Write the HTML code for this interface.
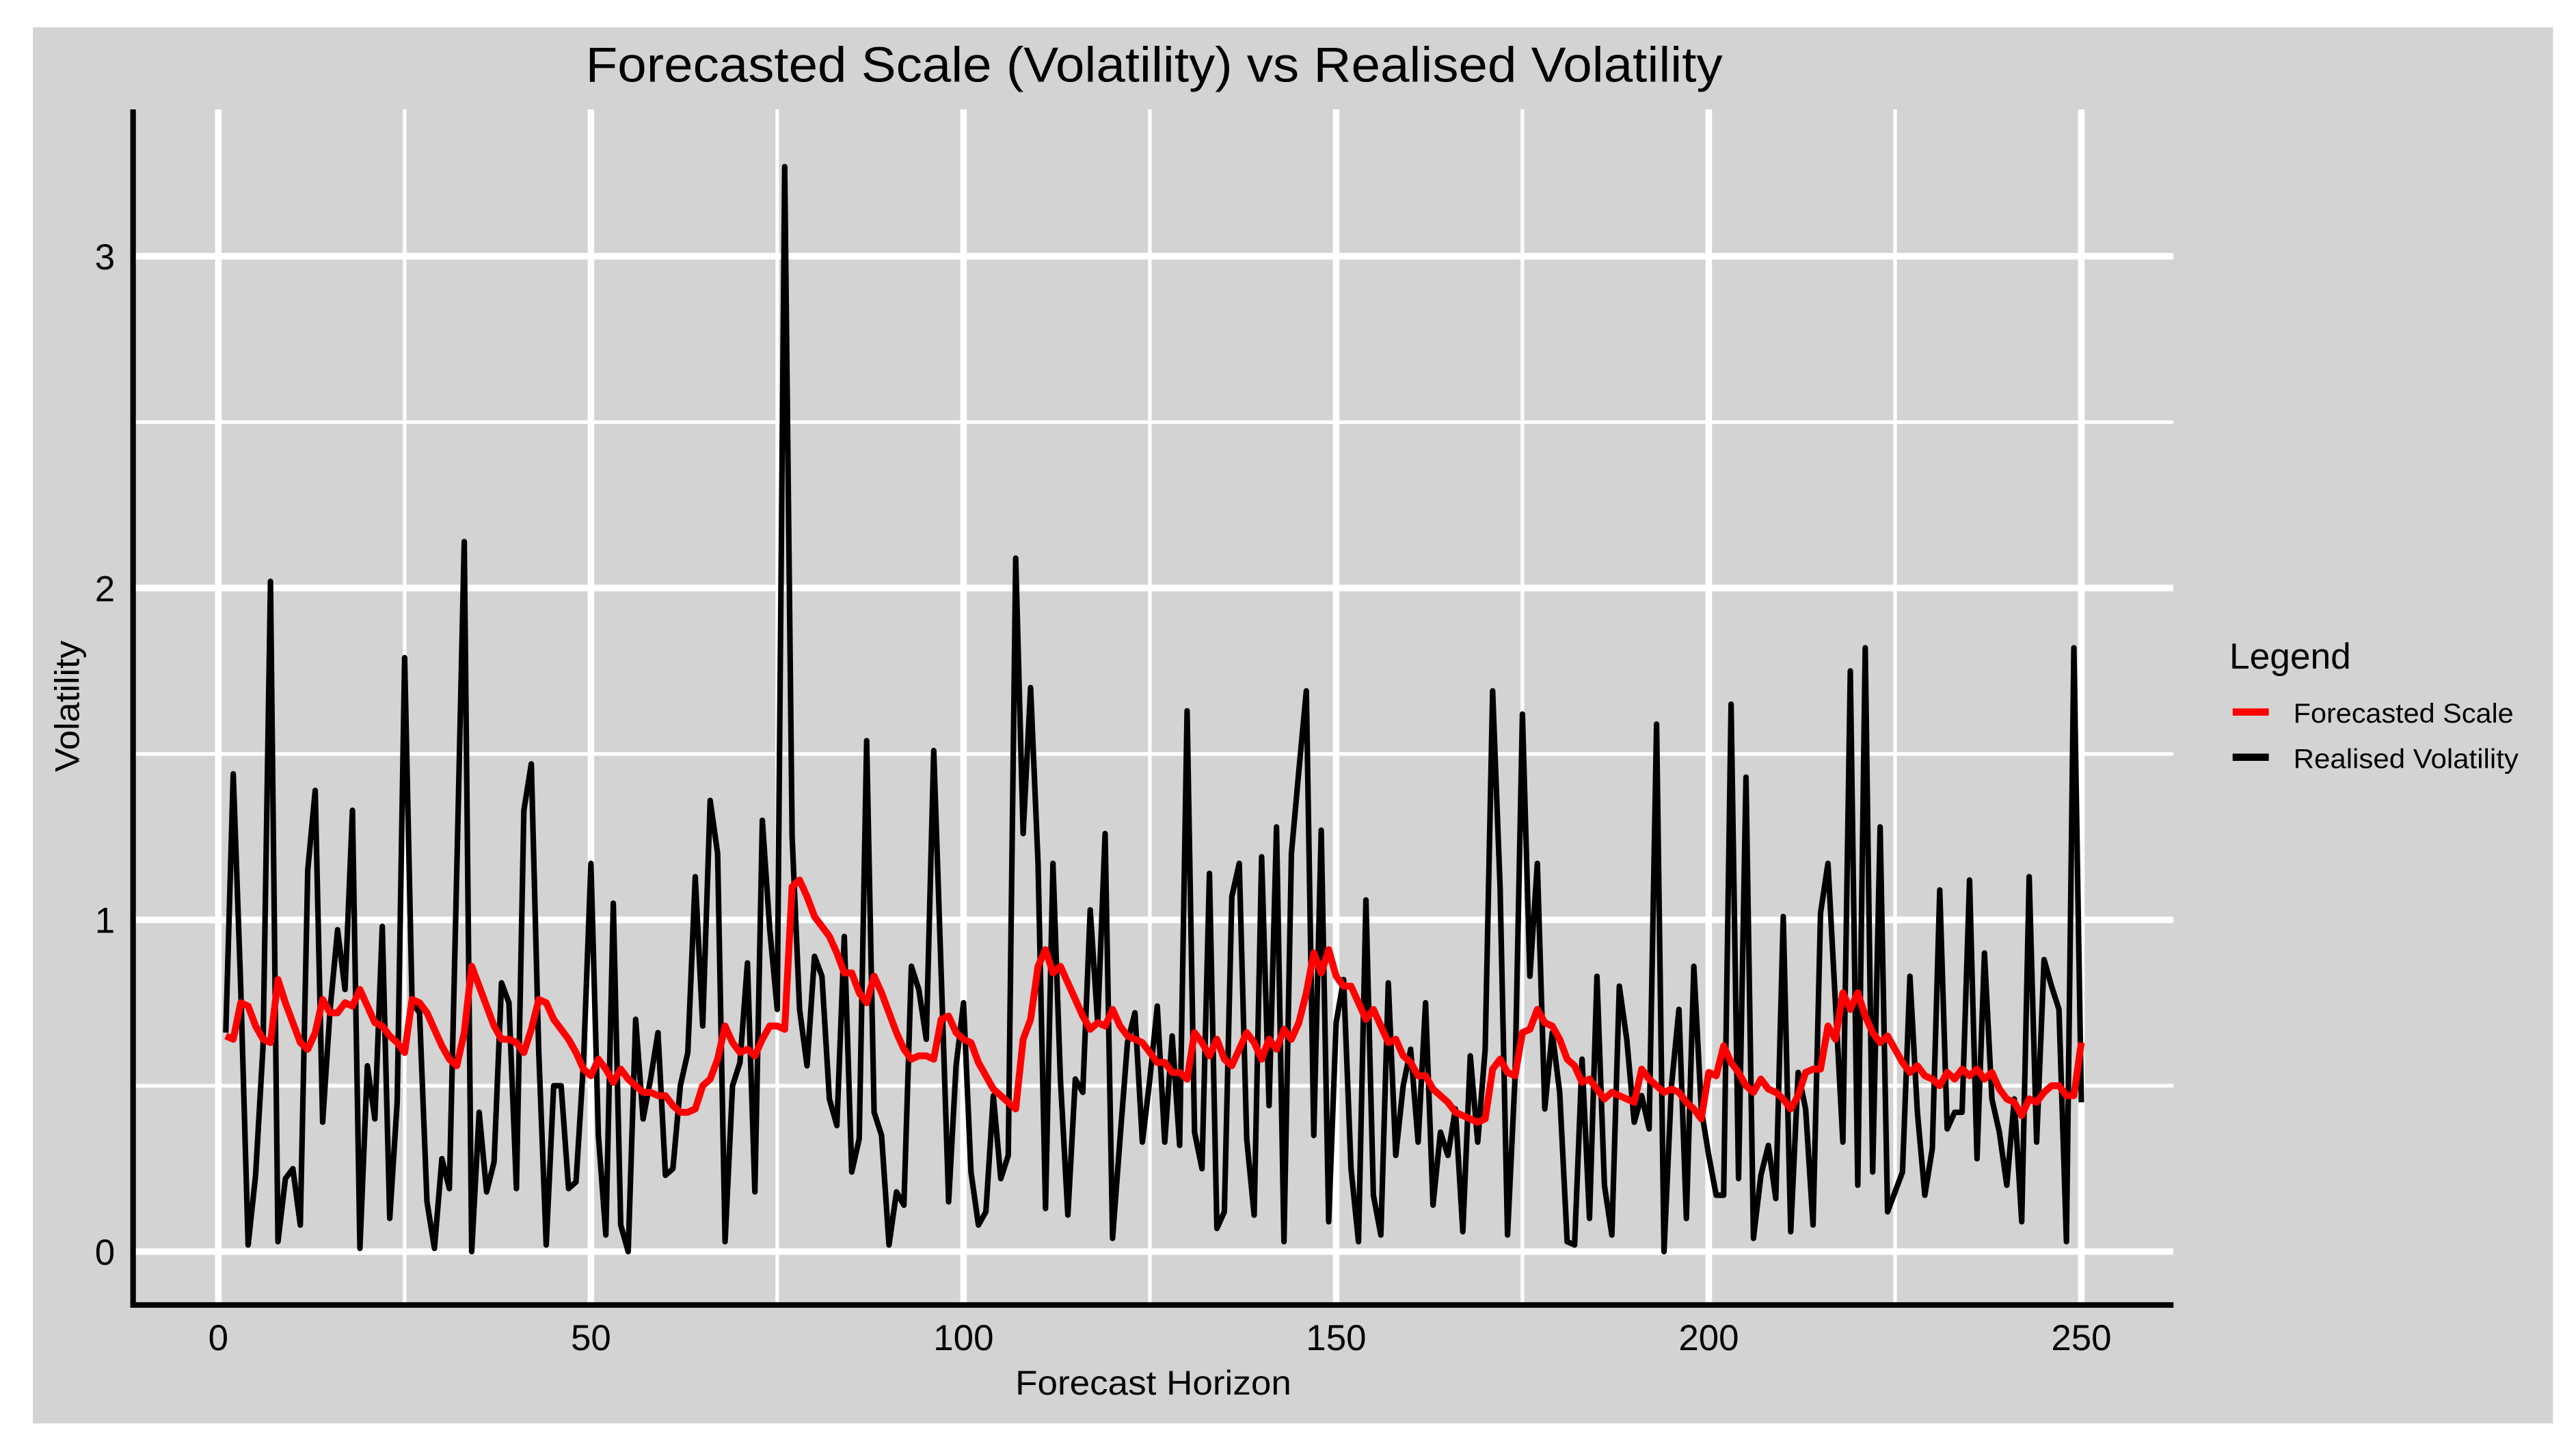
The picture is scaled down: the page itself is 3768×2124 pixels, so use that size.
<!DOCTYPE html>
<html><head><meta charset="utf-8"><style>
html,body{margin:0;padding:0;background:#fff;}
svg{display:block;}
text{font-family:"Liberation Sans",sans-serif;fill:#000;}
</style></head><body>
<svg id="chart" width="3768" height="2124" viewBox="0 0 1568 884" preserveAspectRatio="none" xmlns="http://www.w3.org/2000/svg">
<rect x="20" y="16.6" width="1534" height="850" fill="#d3d3d3"/>
<g id="grid"></g>
<g id="series"></g>
<line x1="81" y1="66.6" x2="81" y2="796" stroke="#000" stroke-width="3.4"/>
<line x1="79.5" y1="794.5" x2="1323" y2="794.5" stroke="#000" stroke-width="3.4"/>
<g id="ticks"></g>
<text x="356.5" y="49.7" font-size="30" textLength="692" lengthAdjust="spacingAndGlyphs">Forecasted Scale (Volatility) vs Realised Volatility</text>
<text x="618" y="849" font-size="21" textLength="168" lengthAdjust="spacingAndGlyphs">Forecast Horizon</text>
<text transform="translate(48,470) rotate(-90)" font-size="21" textLength="80" lengthAdjust="spacingAndGlyphs">Volatility</text>
<g>
<text x="1357" y="407" font-size="22" textLength="74" lengthAdjust="spacingAndGlyphs">Legend</text>
<line x1="1359" y1="433.5" x2="1381" y2="433.5" stroke="#ff0000" stroke-width="4.4"/>
<text x="1396" y="440" font-size="16.5" textLength="134" lengthAdjust="spacingAndGlyphs">Forecasted Scale</text>
<line x1="1359" y1="461" x2="1381" y2="461" stroke="#000" stroke-width="4.4"/>
<text x="1396" y="467.5" font-size="16.5" textLength="137" lengthAdjust="spacingAndGlyphs">Realised Volatility</text>
</g>
</svg>
<script>
const xTicks = [0, 50, 100, 150, 200, 250];
const xMinor = [25, 75, 125, 175, 225];
const yTicks = [0, 1, 2, 3];
const yMinor = [0.5, 1.5, 2.5];
const realised = [
0.66,1.44,0.8,0.02,0.23,0.62,2.02,0.03,0.22,0.25,
0.08,1.15,1.39,0.39,0.73,0.97,0.79,1.33,0.01,0.56,
0.4,0.98,0.1,0.45,1.79,0.75,0.72,0.15,0.01,0.28,
0.19,1.15,2.14,0.0,0.42,0.18,0.27,0.81,0.75,0.19,
1.33,1.47,0.6,0.02,0.5,0.5,0.19,0.21,0.57,1.17,
0.35,0.05,1.05,0.08,0.0,0.7,0.4,0.52,0.66,0.23,
0.25,0.5,0.6,1.13,0.68,1.36,1.2,0.03,0.5,0.57,
0.87,0.18,1.3,0.97,0.73,3.27,1.25,0.73,0.56,0.89,
0.83,0.46,0.38,0.95,0.24,0.34,1.54,0.42,0.35,0.02,
0.18,0.14,0.86,0.79,0.64,1.51,0.84,0.15,0.56,0.75,
0.24,0.08,0.12,0.47,0.22,0.29,2.09,1.26,1.7,1.17,
0.13,1.17,0.52,0.11,0.52,0.48,1.03,0.69,1.26,0.04,
0.34,0.63,0.72,0.33,0.52,0.74,0.33,0.65,0.32,1.63,
0.36,0.25,1.14,0.07,0.12,1.07,1.17,0.34,0.11,1.19,
0.44,1.28,0.03,1.2,1.45,1.69,0.35,1.27,0.09,0.69,
0.82,0.25,0.03,1.06,0.17,0.05,0.81,0.29,0.5,0.61,
0.33,0.75,0.14,0.36,0.29,0.43,0.06,0.59,0.33,0.61,
1.69,1.1,0.05,0.52,1.62,0.83,1.17,0.43,0.66,0.48,
0.03,0.02,0.58,0.1,0.83,0.2,0.05,0.8,0.64,0.39,
0.47,0.37,1.59,0.0,0.5,0.73,0.1,0.86,0.43,0.29,
0.17,0.17,1.65,0.22,1.43,0.04,0.23,0.32,0.16,1.01,
0.06,0.54,0.43,0.08,1.02,1.17,0.75,0.33,1.75,0.2,
1.82,0.24,1.28,0.12,0.18,0.24,0.83,0.42,0.17,0.31,
1.09,0.37,0.42,0.42,1.12,0.28,0.9,0.46,0.36,0.2,
0.46,0.09,1.13,0.33,0.88,0.8,0.73,0.03,1.82,0.45];
const forecast = [
0.65,0.64,0.75,0.74,0.68,0.64,0.63,0.82,0.75,0.69,
0.63,0.61,0.66,0.76,0.72,0.72,0.75,0.74,0.79,0.74,
0.69,0.68,0.65,0.63,0.6,0.76,0.75,0.72,0.67,0.62,
0.58,0.56,0.66,0.86,0.8,0.74,0.68,0.64,0.64,0.63,
0.6,0.67,0.76,0.75,0.7,0.67,0.64,0.6,0.55,0.53,
0.58,0.55,0.51,0.55,0.52,0.5,0.48,0.48,0.47,0.47,
0.44,0.42,0.42,0.43,0.5,0.52,0.58,0.68,0.63,0.6,
0.61,0.59,0.64,0.68,0.68,0.67,1.1,1.12,1.07,1.01,
0.98,0.95,0.9,0.84,0.84,0.78,0.75,0.83,0.78,0.72,
0.66,0.61,0.58,0.59,0.59,0.58,0.7,0.71,0.66,0.64,
0.63,0.57,0.53,0.49,0.47,0.45,0.43,0.64,0.7,0.86,
0.91,0.84,0.86,0.81,0.76,0.71,0.67,0.69,0.68,0.73,
0.68,0.65,0.64,0.63,0.6,0.57,0.57,0.54,0.54,0.52,
0.66,0.63,0.59,0.64,0.58,0.56,0.61,0.66,0.63,0.58,
0.64,0.61,0.67,0.64,0.69,0.78,0.9,0.84,0.91,0.83,
0.8,0.8,0.75,0.7,0.73,0.68,0.63,0.64,0.59,0.57,
0.53,0.53,0.49,0.47,0.45,0.42,0.41,0.4,0.39,0.4,
0.55,0.58,0.54,0.53,0.66,0.67,0.73,0.69,0.68,0.64,
0.58,0.56,0.51,0.52,0.49,0.46,0.48,0.47,0.46,0.45,
0.55,0.52,0.5,0.48,0.49,0.48,0.45,0.43,0.4,0.54,
0.53,0.62,0.57,0.54,0.5,0.48,0.52,0.49,0.48,0.46,
0.43,0.47,0.54,0.55,0.55,0.68,0.64,0.78,0.73,0.78,
0.71,0.66,0.63,0.65,0.61,0.57,0.54,0.56,0.53,0.52,
0.5,0.54,0.52,0.55,0.53,0.55,0.52,0.54,0.49,0.46,
0.45,0.41,0.46,0.45,0.48,0.5,0.5,0.47,0.47,0.63];

const NS = "http://www.w3.org/2000/svg";
const X0 = 132.9, XS = 4.536, Y0 = 762, YS = 202;
function sx(v){ return X0 + v*XS; }
function sy(v){ return Y0 - v*YS; }
const PL = 81, PR = 1323, PT = 66.6, PB = 793;

const grid = document.getElementById('grid');
function gline(x1,y1,x2,y2,w,name){
  const l = document.createElementNS(NS,'line');
  l.setAttribute('x1',x1); l.setAttribute('y1',y1); l.setAttribute('x2',x2); l.setAttribute('y2',y2);
  l.setAttribute('stroke','#fff'); l.setAttribute('stroke-width',w);
  
  
  grid.appendChild(l);
}
yMinor.forEach(v => gline(PL, sy(v), PR, sy(v), 2.2, 'y-minor-gridline'));
xMinor.forEach(v => gline(sx(v), PT, sx(v), PB, 2.2, 'x-minor-gridline'));
yTicks.forEach(v => gline(PL, sy(v), PR, sy(v), 4, 'y-major-gridline'));
xTicks.forEach(v => gline(sx(v), PT, sx(v), PB, 4, 'x-major-gridline'));

const ticks = document.getElementById('ticks');
xTicks.forEach(v => {
  const t = document.createElementNS(NS,'text');
  t.setAttribute('x', sx(v)); t.setAttribute('y', 822);
  t.setAttribute('font-size', 22); t.setAttribute('text-anchor','middle');
  
  
  t.textContent = v; ticks.appendChild(t);
});
yTicks.forEach(v => {
  const t = document.createElementNS(NS,'text');
  t.setAttribute('x', 70); t.setAttribute('y', sy(v) + 8);
  t.setAttribute('font-size', 22); t.setAttribute('text-anchor','end');
  
  
  t.textContent = v; ticks.appendChild(t);
});

const series = document.getElementById('series');
function path(arr, color, w, name){
  const d = arr.map((v,i) => (i ? 'L' : 'M') + sx(i+1).toFixed(2) + ',' + sy(v).toFixed(2)).join(' ');
  const p = document.createElementNS(NS,'path');
  p.setAttribute('d', d); p.setAttribute('fill','none');
  p.setAttribute('stroke', color); p.setAttribute('stroke-width', w);
  p.setAttribute('stroke-linejoin','round');
  
  
  series.appendChild(p);
}
path(realised, '#000', 3.4, 'realised-volatility-line');
path(forecast, '#ff0000', 4.2, 'forecasted-scale-line');
</script>
</body></html>
